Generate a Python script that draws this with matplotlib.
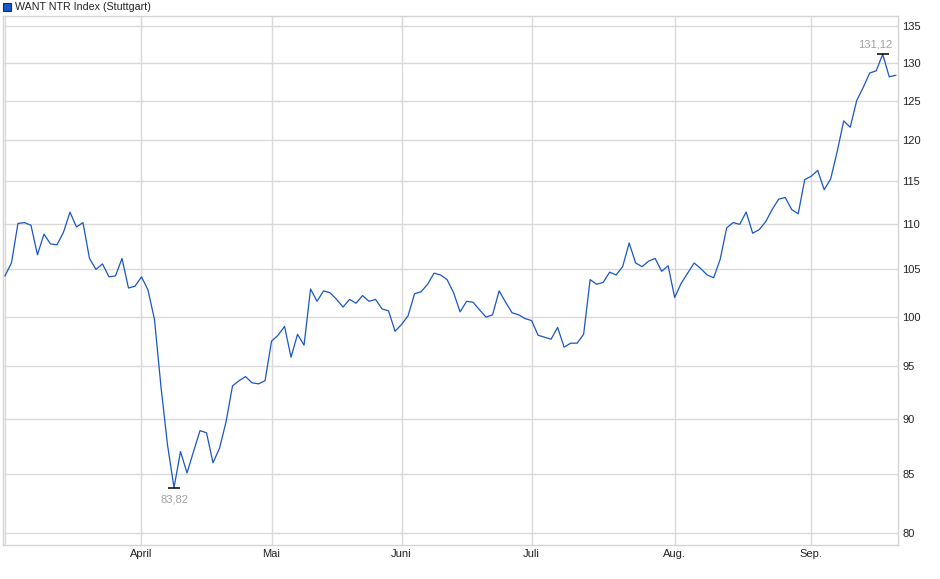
import matplotlib
matplotlib.use('Agg')
from matplotlib import pyplot as plt
from matplotlib.patches import Rectangle
from matplotlib.ticker import FixedLocator, NullLocator, FixedFormatter

# Kursverlauf (Handelstage, Index-Punkte)
prices = [
    104.3, 105.7, 110.1, 110.2, 109.9, 106.6, 108.9, 107.8, 107.7, 109.1,
    111.4, 109.7, 110.2, 106.2, 105.0, 105.6, 104.2, 104.3, 106.2, 103.0,
    103.2, 104.2, 102.8, 99.7, 93.0, 87.6, 83.82, 87.0, 85.1, 87.0,
    88.9, 88.7, 86.0, 87.3, 89.7, 93.1, 93.6, 94.0, 93.4, 93.3,
    93.6, 97.5, 98.1, 99.0, 95.9, 98.2, 97.1, 102.9, 101.6, 102.7,
    102.5, 101.8, 101.0, 101.8, 101.4, 102.2, 101.6, 101.8, 100.8, 100.6,
    98.5, 99.2, 100.1, 102.4, 102.6, 103.4, 104.6, 104.4, 103.9, 102.5,
    100.5, 101.6, 101.5, 100.7, 99.95, 100.2, 102.7, 101.5, 100.4, 100.2,
    99.8, 99.6, 98.1, 97.9, 97.7, 98.9, 96.9, 97.3, 97.3, 98.2,
    103.9, 103.4, 103.6, 104.7, 104.4, 105.3, 107.9, 105.7, 105.3, 105.9,
    106.2, 104.8, 105.4, 102.0, 103.5, 104.6, 105.7, 105.1, 104.4, 104.1,
    106.1, 109.6, 110.2, 110.0, 111.4, 109.0, 109.4, 110.3, 111.7, 112.9,
    113.1, 111.7, 111.2, 115.2, 115.6, 116.3, 114.0, 115.3, 118.6, 122.4,
    121.6, 125.0, 126.7, 128.6, 128.9, 131.12, 128.1, 128.3,
]
month_pos = [0, 21, 41, 61, 81, 103, 124]
month_labels = ['', 'April', 'Mai', 'Juni', 'Juli', 'Aug.', 'Sep.']
y_ticks = [80, 85, 90, 95, 100, 105, 110, 115, 120, 125, 130, 135]
title = 'WANT NTR Index (Stuttgart)'

plt.rcParams['font.family'] = ['Liberation Sans', 'DejaVu Sans']

W, H = 940, 579
fig = plt.figure(figsize=(W / 100, H / 100), dpi=100)
ax = fig.add_axes([3 / W, 1 - 545 / H, 895 / W, 529 / H])

x = list(range(len(prices)))
ax.plot(x, prices, color='#1a56c4', lw=0.9, zorder=3)

ax.set_yscale('log')
ax.set_ylim(79.0, 136.4)
ax.set_xlim(-0.3, len(prices) - 1 + 0.35)

ax.yaxis.set_major_locator(FixedLocator(y_ticks))
ax.yaxis.set_major_formatter(FixedFormatter([str(v) for v in y_ticks]))
ax.yaxis.set_minor_locator(NullLocator())
ax.yaxis.tick_right()
ax.set_xticks(month_pos)
ax.set_xticklabels(month_labels)
ax.tick_params(axis='both', length=0, labelsize=8, colors='#222222')
ax.tick_params(axis='y', pad=3)
ax.tick_params(axis='x', pad=3)

ax.grid(True, color='#dadada', lw=1.0, zorder=0)
for s in ax.spines.values():
    s.set_color('#d4d4d4')
    s.set_linewidth(1.0)

# Tief / Hoch markieren (Hoch-Label bleibt innerhalb der Zeichenfläche)
lo = prices.index(min(prices))
hi = prices.index(max(prices))
for i, va, dx, dy in [(lo, 'top', 0, -5), (hi, 'bottom', -5.5, 3.5)]:
    ax.plot([i], [prices[i]], marker='_', ms=9, mew=1.1, color='black', zorder=4)
    ax.annotate(f'{prices[i]:.2f}'.replace('.', ','), (i, prices[i]),
                xytext=(dx, dy), textcoords='offset points', ha='center', va=va,
                fontsize=8, color='#a0a0a0')

# Legende oben links
fig.patches.append(Rectangle((3 / W, 1 - 11 / H), 8 / W, 8 / H, transform=fig.transFigure,
                             facecolor='#1a56c4', edgecolor='#0d2f70', lw=0.8))
fig.text(15 / W, 1 - 6.5 / H, title, fontsize=7.7, va='center', ha='left', color='#222222')

fig.savefig('out.png', dpi=100)
